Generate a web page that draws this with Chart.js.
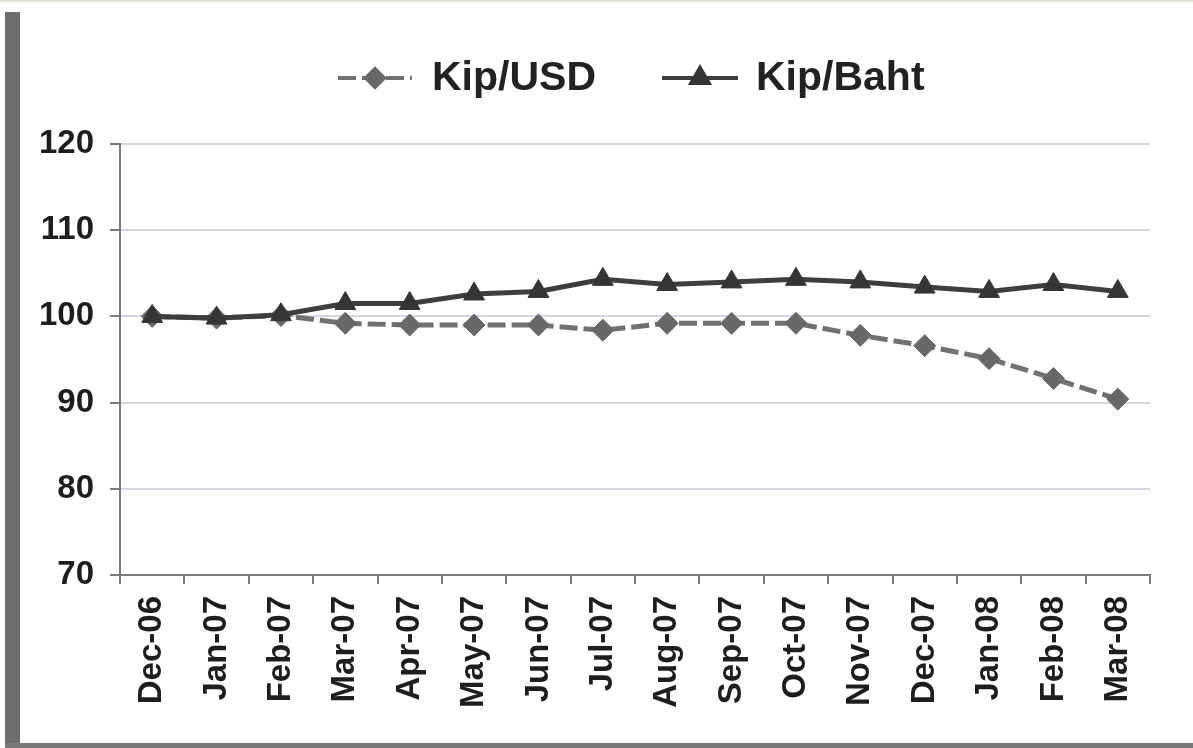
<!DOCTYPE html>
<html>
<head>
<meta charset="utf-8">
<script src="https://cdn.jsdelivr.net/npm/chart.js@4"></script>
<style>
  html, body { margin: 0; padding: 0; background: #fff; }
  .frame { position: relative; width: 1193px; height: 748px; overflow: hidden; }
  .frame .bar-left { position: absolute; left: 5px; top: 12px; width: 15px; bottom: 0; background: #6e6e6e; }
  .frame .bar-bottom { position: absolute; left: 5px; right: 0; bottom: 0; height: 5px; background: #7a7a7a; }
  .frame .bar-top { position: absolute; left: 0; right: 0; top: 0; height: 2px; background: #e2ddd2; }
  canvas { position: absolute; left: 0; top: 0; }
</style>
</head>
<body>
<div class="frame">
  <div class="bar-top"></div>
  <div class="bar-left"></div>
  <div class="bar-bottom"></div>
  <canvas id="rateChart" width="1193" height="748"></canvas>
</div>
<script>
// months on the x axis
const months = ['Dec-06', 'Jan-07', 'Feb-07', 'Mar-07', 'Apr-07', 'May-07', 'Jun-07', 'Jul-07',
                'Aug-07', 'Sep-07', 'Oct-07', 'Nov-07', 'Dec-07', 'Jan-08', 'Feb-08', 'Mar-08'];
// index values (Dec-06 = 100)
const kipUsd  = [100, 99.8, 100.1, 99.2, 99.0, 99.0, 99.0, 98.4, 99.2, 99.2, 99.2, 97.8, 96.6, 95.1, 92.8, 90.4];
const kipBaht = [100, 99.8, 100.2, 101.5, 101.5, 102.6, 102.9, 104.3, 103.7, 104.0, 104.3, 104.0, 103.4, 102.9, 103.7, 102.9];
const yTicks  = [70, 80, 90, 100, 110, 120];

const FONT = '"Liberation Sans", Arial, sans-serif';

// legend drawn by hand: line sample with the marker in the middle
const lineLegend = {
    id: 'lineLegend',
    afterDraw(chart) {
        const ctx = chart.ctx;
        const items = [
            { ds: chart.data.datasets[0], x0: 338, x1: 412, tx: 432 },
            { ds: chart.data.datasets[1], x0: 662, x1: 738, tx: 756 }
        ];
        const y = 78;
        ctx.save();
        items.forEach(it => {
            ctx.strokeStyle = it.ds.borderColor;
            ctx.lineWidth = 4;
            ctx.setLineDash(it.ds.borderDash || []);
            ctx.beginPath();
            ctx.moveTo(it.x0, y);
            ctx.lineTo(it.x1, y);
            ctx.stroke();
            ctx.setLineDash([]);
            ctx.fillStyle = it.ds.pointBackgroundColor;
            ctx.strokeStyle = it.ds.pointBorderColor;
            Chart.helpers.drawPoint(ctx, {
                pointStyle: it.ds.pointStyle,
                radius: it.ds.pointRadius - 2,
                borderWidth: 1,
                rotation: 0
            }, (it.x0 + it.x1) / 2, y);
            ctx.fillStyle = '#222';
            ctx.font = 'bold 41px ' + FONT;
            ctx.textBaseline = 'middle';
            ctx.textAlign = 'left';
            ctx.fillText(it.ds.label, it.tx, y + 1);
        });
        ctx.restore();
    }
};

new Chart(document.getElementById('rateChart'), {
    type: 'line',
    data: {
        labels: months,
        datasets: [
            {
                label: 'Kip/USD',
                data: kipUsd,
                borderColor: '#717171',
                borderWidth: 5,
                borderDash: [18, 6],
                pointStyle: 'rectRot',
                pointRadius: 11,
                pointBackgroundColor: '#686868',
                pointBorderColor: '#686868',
                pointBorderWidth: 1,
                tension: 0,
                order: 2
            },
            {
                label: 'Kip/Baht',
                data: kipBaht,
                borderColor: '#3e3e3e',
                borderWidth: 5,
                pointStyle: 'triangle',
                pointRadius: 12,
                pointBackgroundColor: '#353535',
                pointBorderColor: '#353535',
                pointBorderWidth: 1,
                tension: 0,
                order: 1
            }
        ]
    },
    options: {
        responsive: false,
        animation: false,
        layout: { padding: { top: 144, right: 43, bottom: 0, left: 0 } },
        plugins: {
            legend: { display: false },
            tooltip: { enabled: false }
        },
        scales: {
            x: {
                offset: true,
                grid: {
                    offset: true,
                    drawOnChartArea: false,
                    tickLength: 9,
                    tickColor: '#7a7a7a',
                    lineWidth: 2
                },
                border: { color: '#7a7a7a', width: 2 },
                ticks: {
                    minRotation: 90,
                    maxRotation: 90,
                    padding: 12,
                    color: '#1e1e1e',
                    font: { family: FONT, size: 33, weight: 'bold' }
                },
                afterFit: s => { s.height = 173; }
            },
            y: {
                min: 70,
                max: 120,
                afterBuildTicks: s => { s.ticks = yTicks.map(v => ({ value: v })); },
                grid: {
                    color: '#dcd3e2',
                    lineWidth: 2,
                    tickLength: 10,
                    tickColor: '#7a7a7a'
                },
                border: { color: '#7a7a7a', width: 2 },
                ticks: {
                    padding: 16,
                    color: '#1e1e1e',
                    font: { family: FONT, size: 33, weight: 'bold' }
                },
                afterFit: s => { s.width = 120; }
            }
        }
    },
    plugins: [lineLegend]
});
</script>
</body>
</html>
